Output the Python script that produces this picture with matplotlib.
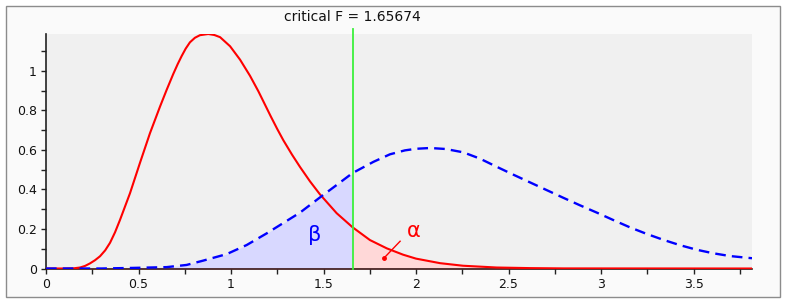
import numpy as np
import matplotlib
matplotlib.use('Agg')
import matplotlib.pyplot as plt
from matplotlib.patches import Rectangle

crit_f = 1.65674

# central F (H0)
red_x = [0.0, 0.10, 0.15, 0.184, 0.211, 0.238, 0.265, 0.292, 0.32, 0.346, 0.373,
         0.40, 0.454, 0.508, 0.562, 0.616, 0.652, 0.688, 0.712, 0.733, 0.755,
         0.778, 0.805, 0.832, 0.877, 0.91, 0.941, 0.995, 1.049, 1.103, 1.148,
         1.215, 1.25, 1.283, 1.33, 1.373, 1.427, 1.481, 1.571, 1.65674, 1.751,
         1.842, 1.93, 2.0, 2.13, 2.254, 2.436, 2.616, 2.8, 3.816]
red_y = [0.0, 0.0, 0.001, 0.005, 0.013, 0.026, 0.042, 0.062, 0.092, 0.13, 0.183,
         0.246, 0.381, 0.535, 0.685, 0.819, 0.904, 0.985, 1.035, 1.075, 1.113,
         1.145, 1.168, 1.181, 1.187, 1.182, 1.171, 1.125, 1.057, 0.975, 0.897,
         0.77, 0.706, 0.649, 0.576, 0.514, 0.441, 0.375, 0.28, 0.209, 0.144,
         0.102, 0.07, 0.05, 0.027, 0.014, 0.005, 0.002, 0.0005, 0.0]

# noncentral F (H1)
blue_x = [0.0, 0.30, 0.47, 0.652, 0.76, 0.85, 0.977, 1.085, 1.193, 1.265, 1.373,
          1.481, 1.56, 1.65674, 1.77, 1.859, 1.94, 2.0, 2.076, 2.16, 2.256, 2.346,
          2.436, 2.526, 2.616, 2.706, 2.796, 2.886, 2.977, 3.067, 3.157, 3.247,
          3.337, 3.427, 3.517, 3.607, 3.697, 3.816]
blue_y = [0.0, 0.0, 0.003, 0.007, 0.018, 0.04, 0.073, 0.119, 0.178, 0.22, 0.283,
          0.36, 0.415, 0.483, 0.54, 0.578, 0.598, 0.606, 0.61, 0.605, 0.588, 0.556,
          0.515, 0.475, 0.436, 0.397, 0.358, 0.32, 0.283, 0.245, 0.208, 0.175,
          0.145, 0.118, 0.095, 0.077, 0.063, 0.052]

x_ticks = [0, 0.5, 1, 1.5, 2, 2.5, 3, 3.5]
x_labels = ['0', '0.5', '1', '1.5', '2', '2.5', '3', '3.5']
y_ticks = [0, 0.2, 0.4, 0.6, 0.8, 1.0]
y_labels = ['0', '0.2', '0.4', '0.6', '0.8', '1']

rx, ry = np.array(red_x), np.array(red_y)
bx, by = np.array(blue_x), np.array(blue_y)

fig = plt.figure(figsize=(7.89, 3.07), dpi=100)
fig.patch.set_facecolor('white')
fig.patches.append(Rectangle((0.0076, 0.034), 0.981, 0.945, transform=fig.transFigure,
                             facecolor='#fafafa', edgecolor='#8c8c8c', linewidth=1.0, zorder=-5))

ax = fig.add_axes([0.0583, 0.1254, 0.8948, 0.7638])
ax.set_facecolor('#f0f0f0')

# beta and alpha areas
ax.fill_between(bx, by, where=bx <= crit_f + 1e-9, color='#d8d8ff', linewidth=0, zorder=1)
ax.fill_between(rx, ry, where=rx >= crit_f - 1e-9, color='#ffd8d8', linewidth=0, zorder=1)

ax.plot(rx, ry, color='#ff0000', linewidth=1.5, zorder=3, solid_joinstyle='round')
ax.plot(bx, by, color='#0000ff', linewidth=1.7, dashes=(4.5, 2.6), zorder=3)

ax.axvline(crit_f, ymin=0, ymax=1.021, color='#3cf03c', linewidth=1.3, clip_on=False, zorder=4)
ax.text(crit_f, 1.072, 'critical F = 1.65674', transform=ax.get_xaxis_transform(),
        ha='center', va='center', fontsize=10, color='#111111')

ax.text(1.454, 0.17, 'β', color='#0000ff', fontsize=15, ha='center', va='center')
ax.text(1.99, 0.19, 'α', color='#ff0000', fontsize=15, ha='center', va='center')
ax.plot([1.914, 1.827], [0.138, 0.053], color='#ff0000', linewidth=1.0, zorder=5)
ax.plot([1.827], [0.053], 'o', color='#ff0000', markersize=2.5, zorder=5)

ax.set_xlim(0, 3.816)
ax.set_ylim(0, 1.187)
ax.set_xticks(x_ticks)
ax.set_xticklabels(x_labels)
ax.set_yticks(y_ticks)
ax.set_yticklabels(y_labels)
ax.set_xticks(np.arange(0.25, 3.8, 0.5), minor=True)
ax.set_yticks(np.arange(0.1, 1.15, 0.2), minor=True)
ax.tick_params(which='both', direction='out', length=3.5, width=1, color='#222222',
               labelsize=9, labelcolor='#111111')
ax.tick_params(axis='x', pad=3)
ax.tick_params(axis='y', pad=3)

for s in ['top', 'right']:
    ax.spines[s].set_visible(False)
ax.spines['left'].set_color('#222222')
ax.spines['bottom'].set_color('#3a1414')
ax.spines['left'].set_linewidth(1.2)
ax.spines['bottom'].set_linewidth(1.2)

plt.savefig('out.png', dpi=100)
